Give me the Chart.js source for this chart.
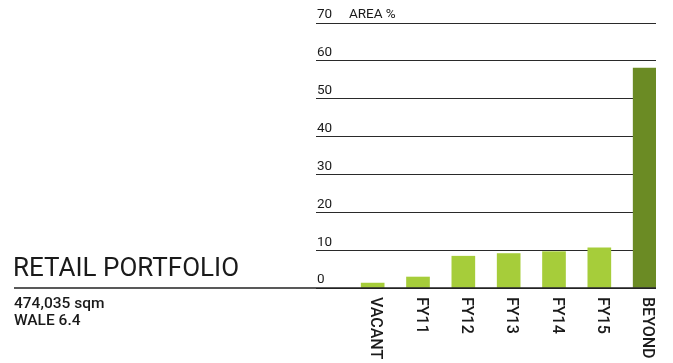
<html>
<head>
<style>
  body { margin: 0; background: #fff; font-family: Roboto, sans-serif; color: #1a1a1a; }
  #wrap { position: relative; width: 673px; height: 363px; }
  #title { position: absolute; left: 13px; top: 252px; font-size: 26px; line-height: 30px; }
  #sub { position: absolute; left: 14px; top: 295px; font-size: 15.5px; line-height: 17px; font-weight: 500; }
  canvas { position: absolute; left: 0; top: 0; }
</style>
</head>
<body>
<div id="wrap">
  <canvas id="myChart" width="673" height="363"></canvas>
  <div id="title">RETAIL PORTFOLIO</div>
  <div id="sub">474,035 sqm<br>WALE 6.4</div>
</div>

<script src="https://cdn.jsdelivr.net/npm/chart.js"></script>
<script>
    // values
    const categories = ['VACANT', 'FY11', 'FY12', 'FY13', 'FY14', 'FY15', 'BEYOND'];
    const areaPct = [1.3, 2.9, 8.4, 9.1, 9.6, 10.6, 58.1];
    const yTicks = [0, 10, 20, 30, 40, 50, 60, 70];
    const yTitle = 'AREA %';

    const barColors = categories.map(c => c === 'BEYOND' ? '#6b8b24' : '#a6cd3a');

    // category labels drawn rotated, reading top to bottom
    const catLabels = {
        id: 'catLabels',
        afterDraw(chart) {
            const x = chart.scales.x, y = chart.scales.y, ctx = chart.ctx;
            const y0 = y.getPixelForValue(0);
            ctx.save();
            // base line runs under the title too
            ctx.strokeStyle = '#222';
            ctx.lineWidth = 1.5;
            ctx.beginPath();
            ctx.moveTo(14, y0);
            ctx.lineTo(chart.chartArea.right, y0);
            ctx.stroke();

            ctx.fillStyle = '#1a1a1a';
            ctx.font = '500 16px Roboto';
            ctx.textAlign = 'left';
            ctx.textBaseline = 'alphabetic';
            for (let i = 0; i < categories.length; i++) {
                ctx.save();
                ctx.translate(x.getPixelForValue(i) - 1.5, y0 + 9);
                ctx.rotate(Math.PI / 2);
                ctx.fillText(categories[i], 0, 0);
                ctx.restore();
            }
            ctx.restore();
        }
    };

    const ctx = document.getElementById('myChart');
    const chart = new Chart(ctx, {
        type: 'bar',
        data: {
            datasets: [{
                data: areaPct.map((v, i) => ({x: i, y: v})),
                backgroundColor: barColors,
                borderWidth: 0,
                barThickness: 23,
            }]
        },
        plugins: [catLabels],
        options: {
            responsive: false,
            animation: false,
            layout: { padding: { left: 314, right: 17, top: 23, bottom: 75 } },
            plugins: { legend: { display: false }, tooltip: { enabled: false } },
            scales: {
                x: {
                    type: 'linear',
                    display: false,
                    offset: false,
                    min: -1.25,
                    max: 6.25,
                },
                y: {
                    min: 0,
                    max: 70,
                    afterBuildTicks: s => { s.ticks = yTicks.map(v => ({value: v})); },
                    border: { display: false },
                    grid: { drawTicks: false, color: '#2a2a2a', lineWidth: 1 },
                    ticks: {
                        mirror: true,
                        padding: 1,
                        labelOffset: -8,
                        color: '#1a1a1a',
                        font: { family: 'Roboto', size: 13.5 },
                        callback: v => v === 70 ? '70     ' + yTitle : String(v),
                    }
                }
            }
        }
    });
</script>
</body>
</html>
